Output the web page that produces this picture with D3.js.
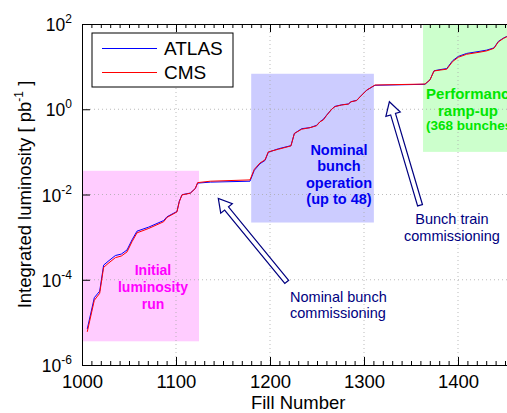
<!DOCTYPE html>
<html>
<head>
<meta charset="utf-8">
<script src="https://cdn.jsdelivr.net/npm/d3@7"></script>
<style>
  html, body { margin: 0; padding: 0; background: #fff; }
  svg { display: block; font-family: "Liberation Sans", Arial, Helvetica, sans-serif; }
</style>
</head>
<body>
<svg id="chart" width="507" height="413"></svg>
<script>
// data (fill number, integrated luminosity in pb^-1)
const fills = [1005.6, 1013.1, 1018.8, 1023, 1027.7, 1035.5, 1041.8, 1047.9, 1053.2, 1058.5,
  1071, 1086.9, 1090.4, 1101, 1103.5, 1106.4, 1115.2, 1120.5, 1123, 1136.5,
  1178.7, 1183.3, 1189.4, 1194.7, 1198.2, 1208.8, 1222.3, 1225.9, 1233.7, 1242.6,
  1249.6, 1253.2, 1256.7, 1260.3, 1265.6, 1269.1, 1276.3, 1283.3, 1286.2, 1292.2,
  1295.7, 1302.8, 1311.7, 1364.9, 1370.2, 1374.5, 1380.9, 1388, 1394.3, 1400.4,
  1409.2, 1423.4, 1430.5, 1438.3, 1442.9, 1448.2, 1451.8, 1458];

const lumiATLAS = [7.0e-6, 3.8e-5, 5.4e-5, 2.2e-4, 2.7e-4, 3.7e-4, 4.0e-4, 5.0e-4, 8.6e-4, 1.38e-3,
  1.72e-3, 2.45e-3, 3.0e-3, 4.0e-3, 6.9e-3, 9.9e-3, 1.08e-2, 1.38e-2, 1.85e-2, 1.95e-2,
  2.05e-2, 3.7e-2, 5.3e-2, 6.3e-2, 0.098, 0.118, 0.14, 0.27, 0.35, 0.37,
  0.42, 0.51, 0.58, 0.73, 1.0, 1.17, 1.27, 1.33, 1.5, 1.62,
  1.95, 2.8, 3.65, 3.85, 4.9, 8.0, 8.5, 9.0, 13.8, 17.4,
  20.4, 22.9, 24.4, 27.5, 39, 46.5, 51, 57];

const lumiCMS = [6.0e-6, 3.3e-5, 4.8e-5, 1.95e-4, 2.4e-4, 3.3e-4, 3.6e-4, 4.5e-4, 7.8e-4, 1.26e-3,
  1.6e-3, 2.3e-3, 2.9e-3, 3.9e-3, 6.8e-3, 9.8e-3, 1.07e-2, 1.38e-2, 1.9e-2, 2.05e-2,
  2.2e-2, 3.9e-2, 5.5e-2, 6.5e-2, 0.10, 0.115, 0.138, 0.27, 0.34, 0.37,
  0.41, 0.51, 0.56, 0.72, 1.0, 1.15, 1.26, 1.32, 1.5, 1.6,
  1.95, 2.8, 3.7, 3.9, 4.9, 7.9, 8.3, 8.7, 13.2, 16.6,
  19.5, 21.9, 23.4, 26.9, 38, 45.7, 50, 56];

const xTicks = [1000, 1100, 1200, 1300, 1400];
const yTickExp = [-6, -4, -2, 0, 2];

// shaded periods: [fill0, fill1, lumi low, lumi high]
const periods = [
  { name: "initial", x0: 1000, x1: 1124.5, y0: 3.6e-6, y1: 3.6e-2, fill: "#ffccff" },
  { name: "nominal", x0: 1180, x1: 1310.5, y0: 2.2e-3, y1: 6.8, fill: "#ccccff" },
  { name: "ramp", x0: 1362.8, x1: 1500, y0: 0.1, y1: 95, fill: "#ccffcc" }
];

// --- setup
const svg = d3.select("#chart");
const margin = { top: 24, left: 82 };
const plotH = 341;
const x = d3.scaleLinear().domain([1000, 1500]).range([margin.left, margin.left + 470]);
const y = d3.scaleLog().domain([1e-6, 1e2]).range([margin.top + plotH, margin.top]);
const yBot = margin.top + plotH;

// shaded boxes
svg.append("g").selectAll("rect")
  .data(periods)
  .join("rect")
    .attr("x", d => x(d.x0))
    .attr("y", d => y(d.y1))
    .attr("width", d => x(d.x1) - x(d.x0))
    .attr("height", d => y(d.y0) - y(d.y1))
    .attr("fill", d => d.fill);

// dotted grid
const grid = svg.append("g")
  .attr("stroke", "#aaa")
  .attr("stroke-width", 0.8)
  .attr("stroke-dasharray", "1,3");
grid.selectAll("line.v")
  .data(xTicks.slice(1))
  .join("line")
    .attr("x1", d => x(d)).attr("x2", d => x(d))
    .attr("y1", margin.top).attr("y2", yBot);
grid.selectAll("line.h")
  .data([-4, -2, 0])
  .join("line")
    .attr("x1", margin.left).attr("x2", x(1500))
    .attr("y1", d => y(Math.pow(10, d))).attr("y2", d => y(Math.pow(10, d)));

// curves
const line = d3.line().x(d => x(d[0])).y(d => y(d[1]));
const series = [
  { name: "ATLAS", color: "#0000ff", vals: lumiATLAS },
  { name: "CMS", color: "#ff0000", vals: lumiCMS }
];
series.forEach(s => {
  svg.append("path")
    .datum(fills.map((f, i) => [f, s.vals[i]]))
    .attr("fill", "none")
    .attr("stroke", s.color)
    .attr("stroke-width", 1)
    .attr("d", line);
});

// hollow arrows
const arrows = [
  { tail: [1217.8, 8.9e-5], tip: [1145, 8.1e-3] },
  { tail: [1359.6, 5.6e-3], tip: [1327, 1.5] }
];
arrows.forEach(a => {
  const [tx, ty] = [x(a.tail[0]), y(a.tail[1])];
  const [px, py] = [x(a.tip[0]), y(a.tip[1])];
  const len = Math.hypot(px - tx, py - ty);
  const ux = (px - tx) / len, uy = (py - ty) / len;
  const nx = -uy, ny = ux;
  const sw = 2.5, hw = 7.5, hl = 13;
  const bx = px - ux * hl, by = py - uy * hl;
  const pts = [
    [tx + nx * sw, ty + ny * sw],
    [bx + nx * sw, by + ny * sw],
    [bx + nx * hw, by + ny * hw],
    [px, py],
    [bx - nx * hw, by - ny * hw],
    [bx - nx * sw, by - ny * sw],
    [tx - nx * sw, ty - ny * sw]
  ];
  svg.append("polygon")
    .attr("points", pts.map(p => p.join(",")).join(" "))
    .attr("fill", "#fff")
    .attr("stroke", "#000080")
    .attr("stroke-width", 1.2);
});

// annotation labels
const notes = [
  { lines: ["Initial", "luminosity", "run"], fx: 1075.5, ly: 1.29e-4, color: "#ff00ff", size: 14, bold: true, anchor: "middle", lh: 17 },
  { lines: ["Nominal", "bunch", "operation", "(up to 48)"], fx: 1273.4, ly: 0.0845, color: "#0000ee", size: 14.5, bold: true, anchor: "middle", lh: 16.5 },
  { lines: ["Performance"], fx: 1366, ly: 1.74, color: "#00e600", size: 15, bold: true, anchor: "start", lh: 17 },
  { lines: ["ramp-up"], fx: 1410.6, ly: 0.71, color: "#00e600", size: 15, bold: true, anchor: "middle", lh: 17 },
  { lines: ["(368 bunches)"], fx: 1366, ly: 0.326, color: "#00e600", size: 13.5, bold: true, anchor: "start", lh: 15 },
  { lines: ["Bunch train", "commissioning"], fx: 1393.6, ly: 2.03e-3, color: "#000080", size: 14.5, bold: false, anchor: "middle", lh: 17 },
  { lines: ["Nominal bunch", "commissioning"], fx: 1221.3, ly: 3.05e-5, color: "#000080", size: 14.5, bold: false, anchor: "start", lh: 16.5 }
];
notes.forEach(n => {
  const t = svg.append("text")
    .attr("x", x(n.fx))
    .attr("y", y(n.ly))
    .attr("fill", n.color)
    .attr("font-size", n.size + "px")
    .attr("font-weight", n.bold ? "bold" : "normal")
    .attr("text-anchor", n.anchor);
  n.lines.forEach((l, i) => {
    t.append("tspan")
      .attr("x", x(n.fx))
      .attr("dy", i === 0 ? 0 : n.lh)
      .text(l);
  });
});

// axes
const bottom = svg.append("g")
  .attr("transform", `translate(0,${yBot})`)
  .call(d3.axisBottom(x).tickValues(xTicks).tickSizeInner(-8).tickSizeOuter(0).tickPadding(10).tickFormat(d3.format("d")));
bottom.selectAll("text").attr("font-size", "18.5px").attr("fill", "#000").attr("font-family", null);

svg.append("g")
  .attr("transform", `translate(0,${yBot})`)
  .call(d3.axisBottom(x).tickValues(d3.range(1000, 1501, 10)).tickSizeInner(-4).tickSizeOuter(0).tickFormat(""));

svg.append("g")
  .attr("transform", `translate(0,${margin.top})`)
  .call(d3.axisTop(x).tickValues(xTicks).tickSizeInner(-8).tickSizeOuter(0).tickFormat(""));
svg.append("g")
  .attr("transform", `translate(0,${margin.top})`)
  .call(d3.axisTop(x).tickValues(d3.range(1000, 1501, 10)).tickSizeInner(-4).tickSizeOuter(0).tickFormat(""));

svg.append("g")
  .attr("transform", `translate(${margin.left},0)`)
  .call(d3.axisLeft(y).tickValues(yTickExp.map(e => Math.pow(10, e))).tickSizeInner(-8).tickSizeOuter(0).tickFormat(""));

svg.selectAll(".domain").attr("stroke", "#000");
svg.selectAll(".tick line").attr("stroke", "#000");

// y tick labels with superscripts
yTickExp.forEach(e => {
  const t = svg.append("text")
    .attr("x", margin.left - 10)
    .attr("y", y(Math.pow(10, e)) + 7)
    .attr("text-anchor", "end")
    .attr("font-size", "17.5px");
  t.append("tspan").text("10");
  t.append("tspan").attr("font-size", "12px").attr("dy", -8).text(e);
});

// axis titles
svg.append("text")
  .attr("x", x(1230))
  .attr("y", 409)
  .attr("text-anchor", "middle")
  .attr("font-size", "18.5px")
  .text("Fill Number");

const yl = svg.append("text")
  .attr("transform", "rotate(-90)")
  .attr("x", -(margin.top + plotH / 2))
  .attr("y", 31)
  .attr("text-anchor", "middle")
  .attr("font-size", "18.5px");
yl.append("tspan").text("Integrated luminosity [ pb");
yl.append("tspan").attr("font-size", "12px").attr("dy", -8).text("-1");
yl.append("tspan").attr("dy", 8).text(" ]");

// legend
const legend = svg.append("g").attr("transform", "translate(92,33)");
legend.append("rect")
  .attr("width", 141).attr("height", 54)
  .attr("fill", "#fff").attr("stroke", "#000").attr("stroke-width", 1);
series.forEach((s, i) => {
  legend.append("line")
    .attr("x1", 10).attr("x2", 65)
    .attr("y1", 15.5 + i * 24).attr("y2", 15.5 + i * 24)
    .attr("stroke", s.color).attr("stroke-width", 1);
  legend.append("text")
    .attr("x", 72).attr("y", 22 + i * 24)
    .attr("font-size", "19px")
    .text(s.name);
});
</script>
</body>
</html>
